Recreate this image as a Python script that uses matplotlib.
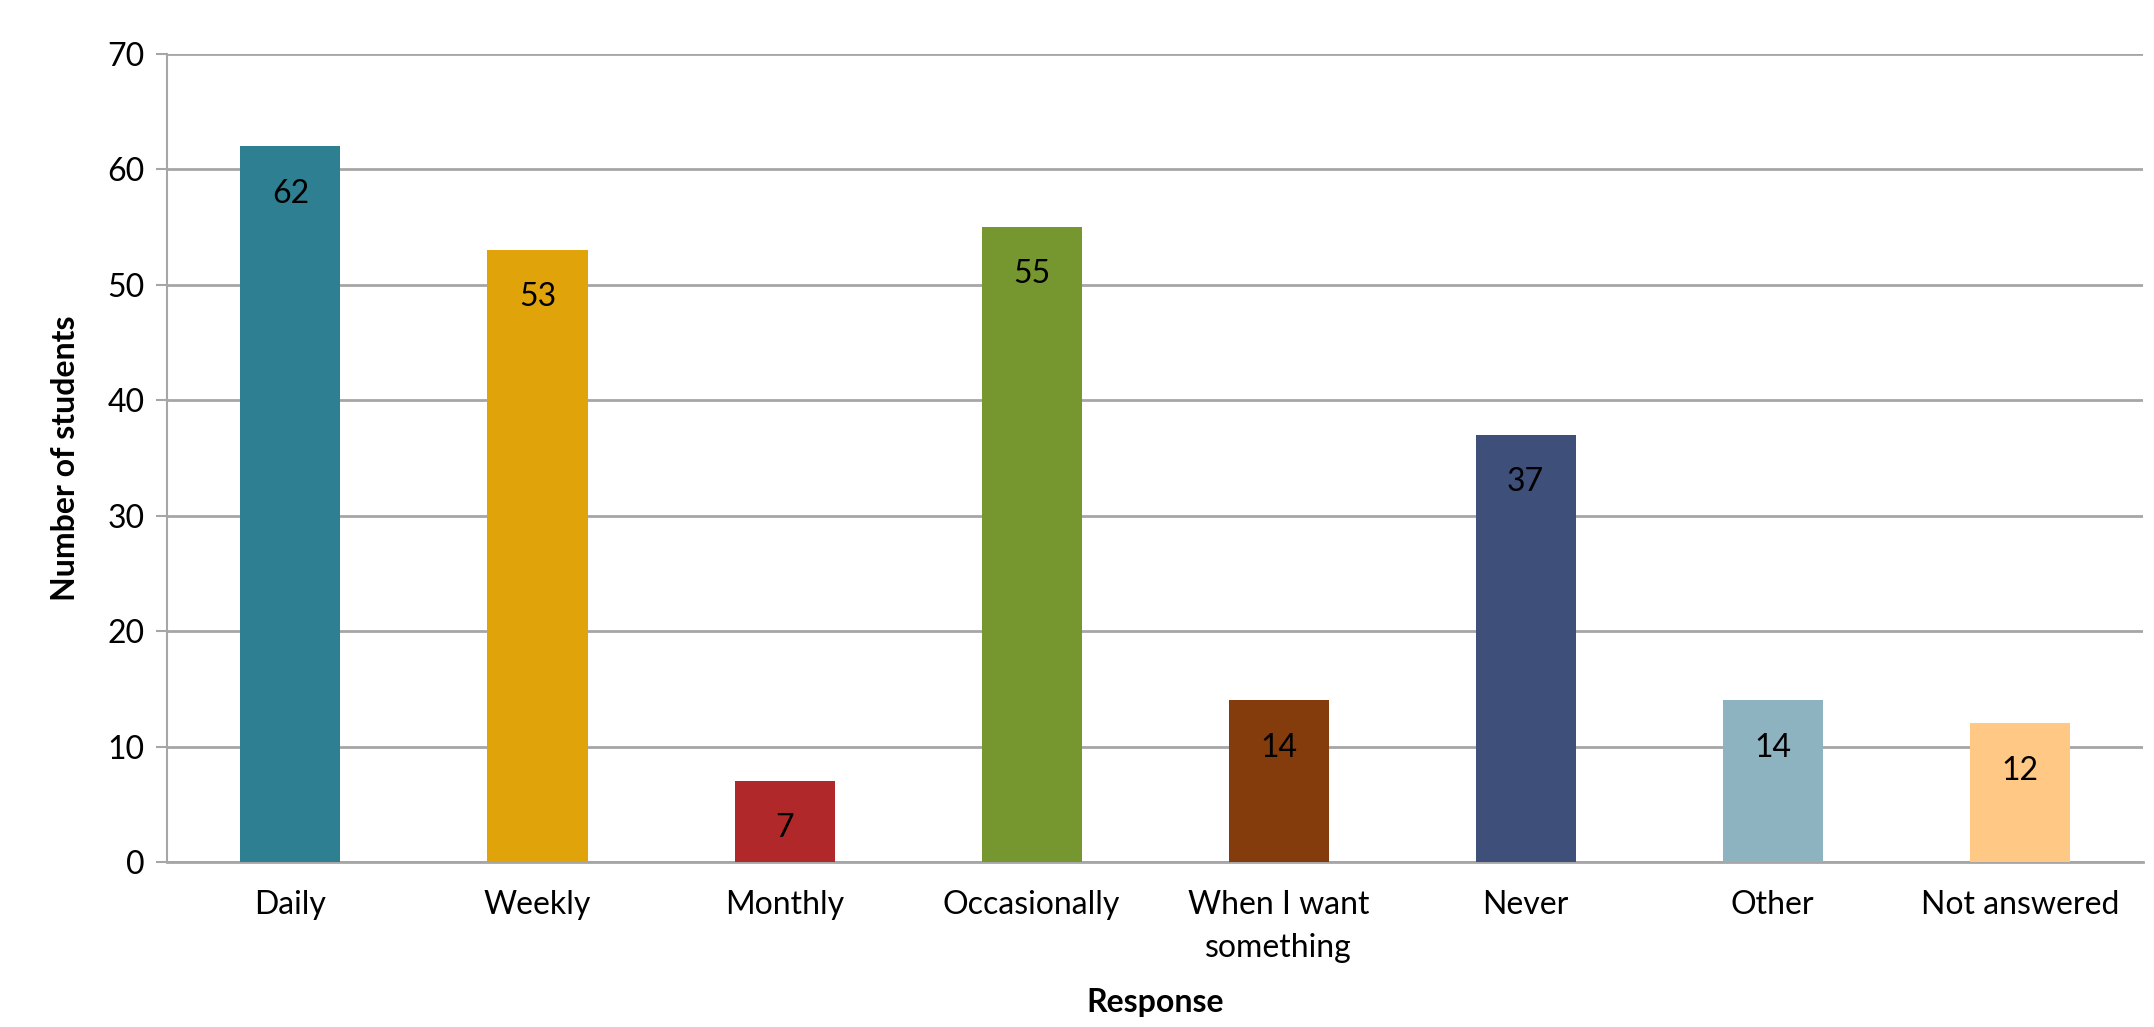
import matplotlib
matplotlib.use("Agg")
import matplotlib.pyplot as plt
import numpy as np

categories = ["Daily", "Weekly", "Monthly", "Occasionally", "When I want\nsomething",
              "Never", "Other", "Not answered"]
counts = [62, 53, 7, 55, 14, 37, 14, 12]
colors = ["#2E7F91", "#E0A30A", "#B0282A", "#76962F", "#843C0C",
          "#3E4F7A", "#8DB3C0", "#FFC985"]

plt.rcParams['font.family'] = ['Lato', 'DejaVu Sans']

fig = plt.figure(figsize=(21.54, 10.27), dpi=100)
ax = fig.add_axes([0.0775, 0.1607, 0.9175, 0.7867])

x = np.arange(len(categories))
bars = ax.bar(x, counts, width=0.405, color=colors, zorder=3)

for xi, v in zip(x, counts):
    ax.annotate(str(v), (xi, v), xytext=(0, -34), textcoords='offset points',
                ha='center', va='center', fontsize=23, color='black', zorder=4)

ax.set_xlim(-0.5, len(categories) - 0.5)
ax.set_ylim(0, 70)
ax.set_yticks(range(0, 71, 10))
ax.set_xticks(x)
ax.set_xticklabels(categories, fontsize=23, linespacing=1.55)
ax.tick_params(axis='y', labelsize=23, length=8, width=1.5, color='#A6A6A6', pad=8)
ax.tick_params(axis='x', length=0, pad=20)

ax.grid(axis='y', color='#A6A6A6', linewidth=2, zorder=0)
for side in ['top', 'right']:
    ax.spines[side].set_visible(False)
ax.spines['left'].set_color('#A6A6A6')
ax.spines['left'].set_linewidth(1.5)
ax.spines['bottom'].set_color('#A6A6A6')
ax.spines['bottom'].set_linewidth(2)

ax.set_ylabel("Number of students", fontsize=23, fontweight='bold', labelpad=20)
ax.set_xlabel("Response", fontsize=23, fontweight='bold', labelpad=18)

fig.savefig("out.png", dpi=100)
